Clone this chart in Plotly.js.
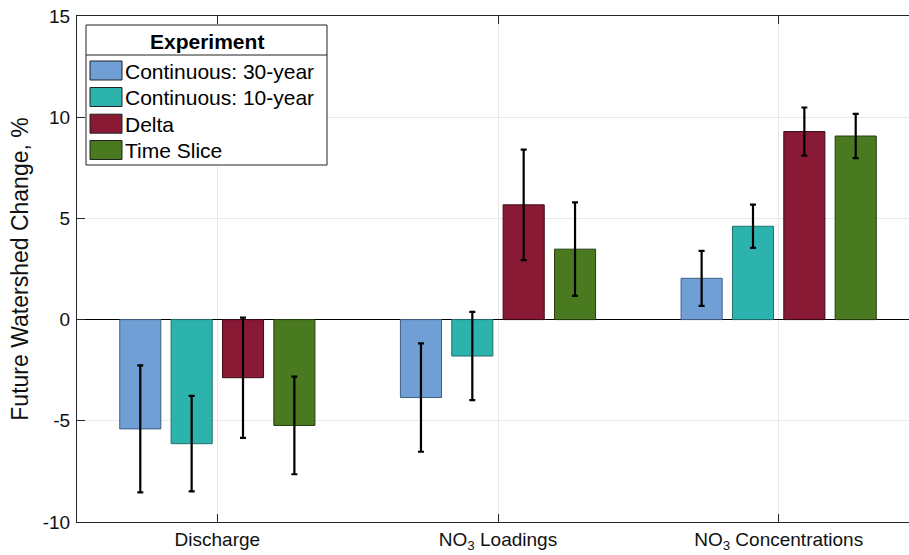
<!DOCTYPE html>
<html>
<head>
<meta charset="utf-8">
<script src="https://cdn.plot.ly/plotly-3.0.1.min.js"></script>
<style>
  html, body { margin: 0; padding: 0; overflow: hidden; background: #fff; }
  #chart { width: 919px; height: 555px; }
</style>
</head>
<body>
<div id="chart"></div>
<script>
// Categories (x-axis)
const categories = ['Discharge', 'NO<sub>3</sub> Loadings', 'NO<sub>3</sub> Concentrations'];

// Series values (% change) and error-bar half-widths
const seriesNames = ['Continuous: 30-year', 'Continuous: 10-year', 'Delta', 'Time Slice'];
const cont30 = [-5.40, -3.85, 2.04];
const cont30Err = [3.14, 2.68, 1.36];
const cont10 = [-6.13, -1.80, 4.61];
const cont10Err = [2.36, 2.18, 1.07];
const delta = [-2.87, 5.67, 9.29];
const deltaErr = [2.97, 2.73, 1.19];
const timeSlice = [-5.23, 3.48, 9.07];
const timeSliceErr = [2.41, 2.31, 1.09];

// Y tick values
const yTicks = [-10, -5, 0, 5, 10, 15];
const legendTitle = 'Experiment';

const colors = ['#6f9fd4', '#2cb3ae', '#881a35', '#497a20'];
const edges = ['#3f5f80', '#1f6f6c', '#3a0a16', '#233d0f'];
const values = [cont30, cont10, delta, timeSlice];
const errs = [cont30Err, cont10Err, deltaErr, timeSliceErr];

const FONT = 'Helvetica, "Liberation Sans", Arial, sans-serif';

const traces = seriesNames.map((name, i) => ({
  type: 'bar',
  name: name,
  x: categories,
  y: values[i],
  marker: { color: colors[i], line: { color: edges[i], width: 1 } },
  error_y: { type: 'data', array: errs[i], visible: true, color: '#000', thickness: 2.2, width: 3 },
  hoverinfo: 'x+y+name',
  showlegend: false
}));

// Plot-area geometry (pixels) used to place the hand-drawn legend box
const M = { l: 77, r: 0, t: 16, b: 33 };
const W = 919, H = 555;
const PW = W - M.l - M.r, PH = H - M.t - M.b;
const px = x => (x - M.l) / PW;
const py = y => 1 - (y - M.t) / PH;

// Legend box layout (pixels)
const LB = { x0: 86, x1: 327, y0: 25, y1: 165, sep: 55 };
const rowY = [70.5, 97, 123.7, 150];

const shapes = [
  { type: 'rect', xref: 'paper', yref: 'paper', layer: 'above',
    x0: px(LB.x0), x1: px(LB.x1), y0: py(LB.y1), y1: py(LB.y0),
    fillcolor: '#fff', line: { color: '#222', width: 1 } },
  { type: 'line', xref: 'paper', yref: 'paper', layer: 'above',
    x0: px(LB.x0), x1: px(LB.x1), y0: py(LB.sep), y1: py(LB.sep),
    line: { color: '#222', width: 1 } }
];
const annotations = [
  { xref: 'paper', yref: 'paper', x: px((LB.x0 + LB.x1) / 2), y: py(41), xanchor: 'center', yanchor: 'middle',
    text: '<b>' + legendTitle + '</b>', showarrow: false, font: { family: FONT, size: 21, color: '#000' } }
];
seriesNames.forEach((name, i) => {
  shapes.push({ type: 'rect', xref: 'paper', yref: 'paper', layer: 'above',
    x0: px(90), x1: px(122), y0: py(rowY[i] + 9.5), y1: py(rowY[i] - 9.5),
    fillcolor: colors[i], line: { color: '#222', width: 1 } });
  annotations.push({ xref: 'paper', yref: 'paper', x: px(123), y: py(rowY[i] + 0.5), xanchor: 'left', yanchor: 'middle',
    text: name, showarrow: false, font: { family: FONT, size: 21, color: '#000' } });
});

const layout = {
  width: W,
  height: H,
  margin: M,
  paper_bgcolor: '#fff',
  plot_bgcolor: '#fff',
  barmode: 'group',
  bargap: 0.268,
  bargroupgap: 0.2,
  font: { family: FONT, color: '#111', size: 19 },
  xaxis: {
    type: 'category',
    range: [-0.5, 2.5],
    showgrid: true,
    gridcolor: '#e8e8e8',
    gridwidth: 1,
    showline: true,
    linecolor: '#262626',
    linewidth: 1,
    mirror: 'ticks',
    ticks: 'inside',
    ticklen: 8,
    tickcolor: '#262626',
    tickfont: { family: FONT, size: 19, color: '#111' },
    fixedrange: true
  },
  yaxis: {
    range: [-10, 15],
    tickvals: yTicks,
    ticktext: yTicks.map(String),
    showgrid: true,
    gridcolor: '#e8e8e8',
    gridwidth: 1,
    zeroline: true,
    zerolinecolor: '#000',
    zerolinewidth: 1.3,
    showline: true,
    linecolor: '#262626',
    linewidth: 1,
    mirror: 'ticks',
    ticks: 'inside',
    ticklen: 8,
    tickcolor: '#262626',
    ticklabelstandoff: 2,
    tickfont: { family: FONT, size: 19, color: '#111' },
    title: { text: 'Future Watershed Change, %', font: { family: FONT, size: 23, color: '#111' }, standoff: 7 },
    fixedrange: true
  },
  showlegend: false,
  shapes: shapes,
  annotations: annotations
};

Plotly.newPlot('chart', traces, layout, { displayModeBar: false });
</script>
</body>
</html>
